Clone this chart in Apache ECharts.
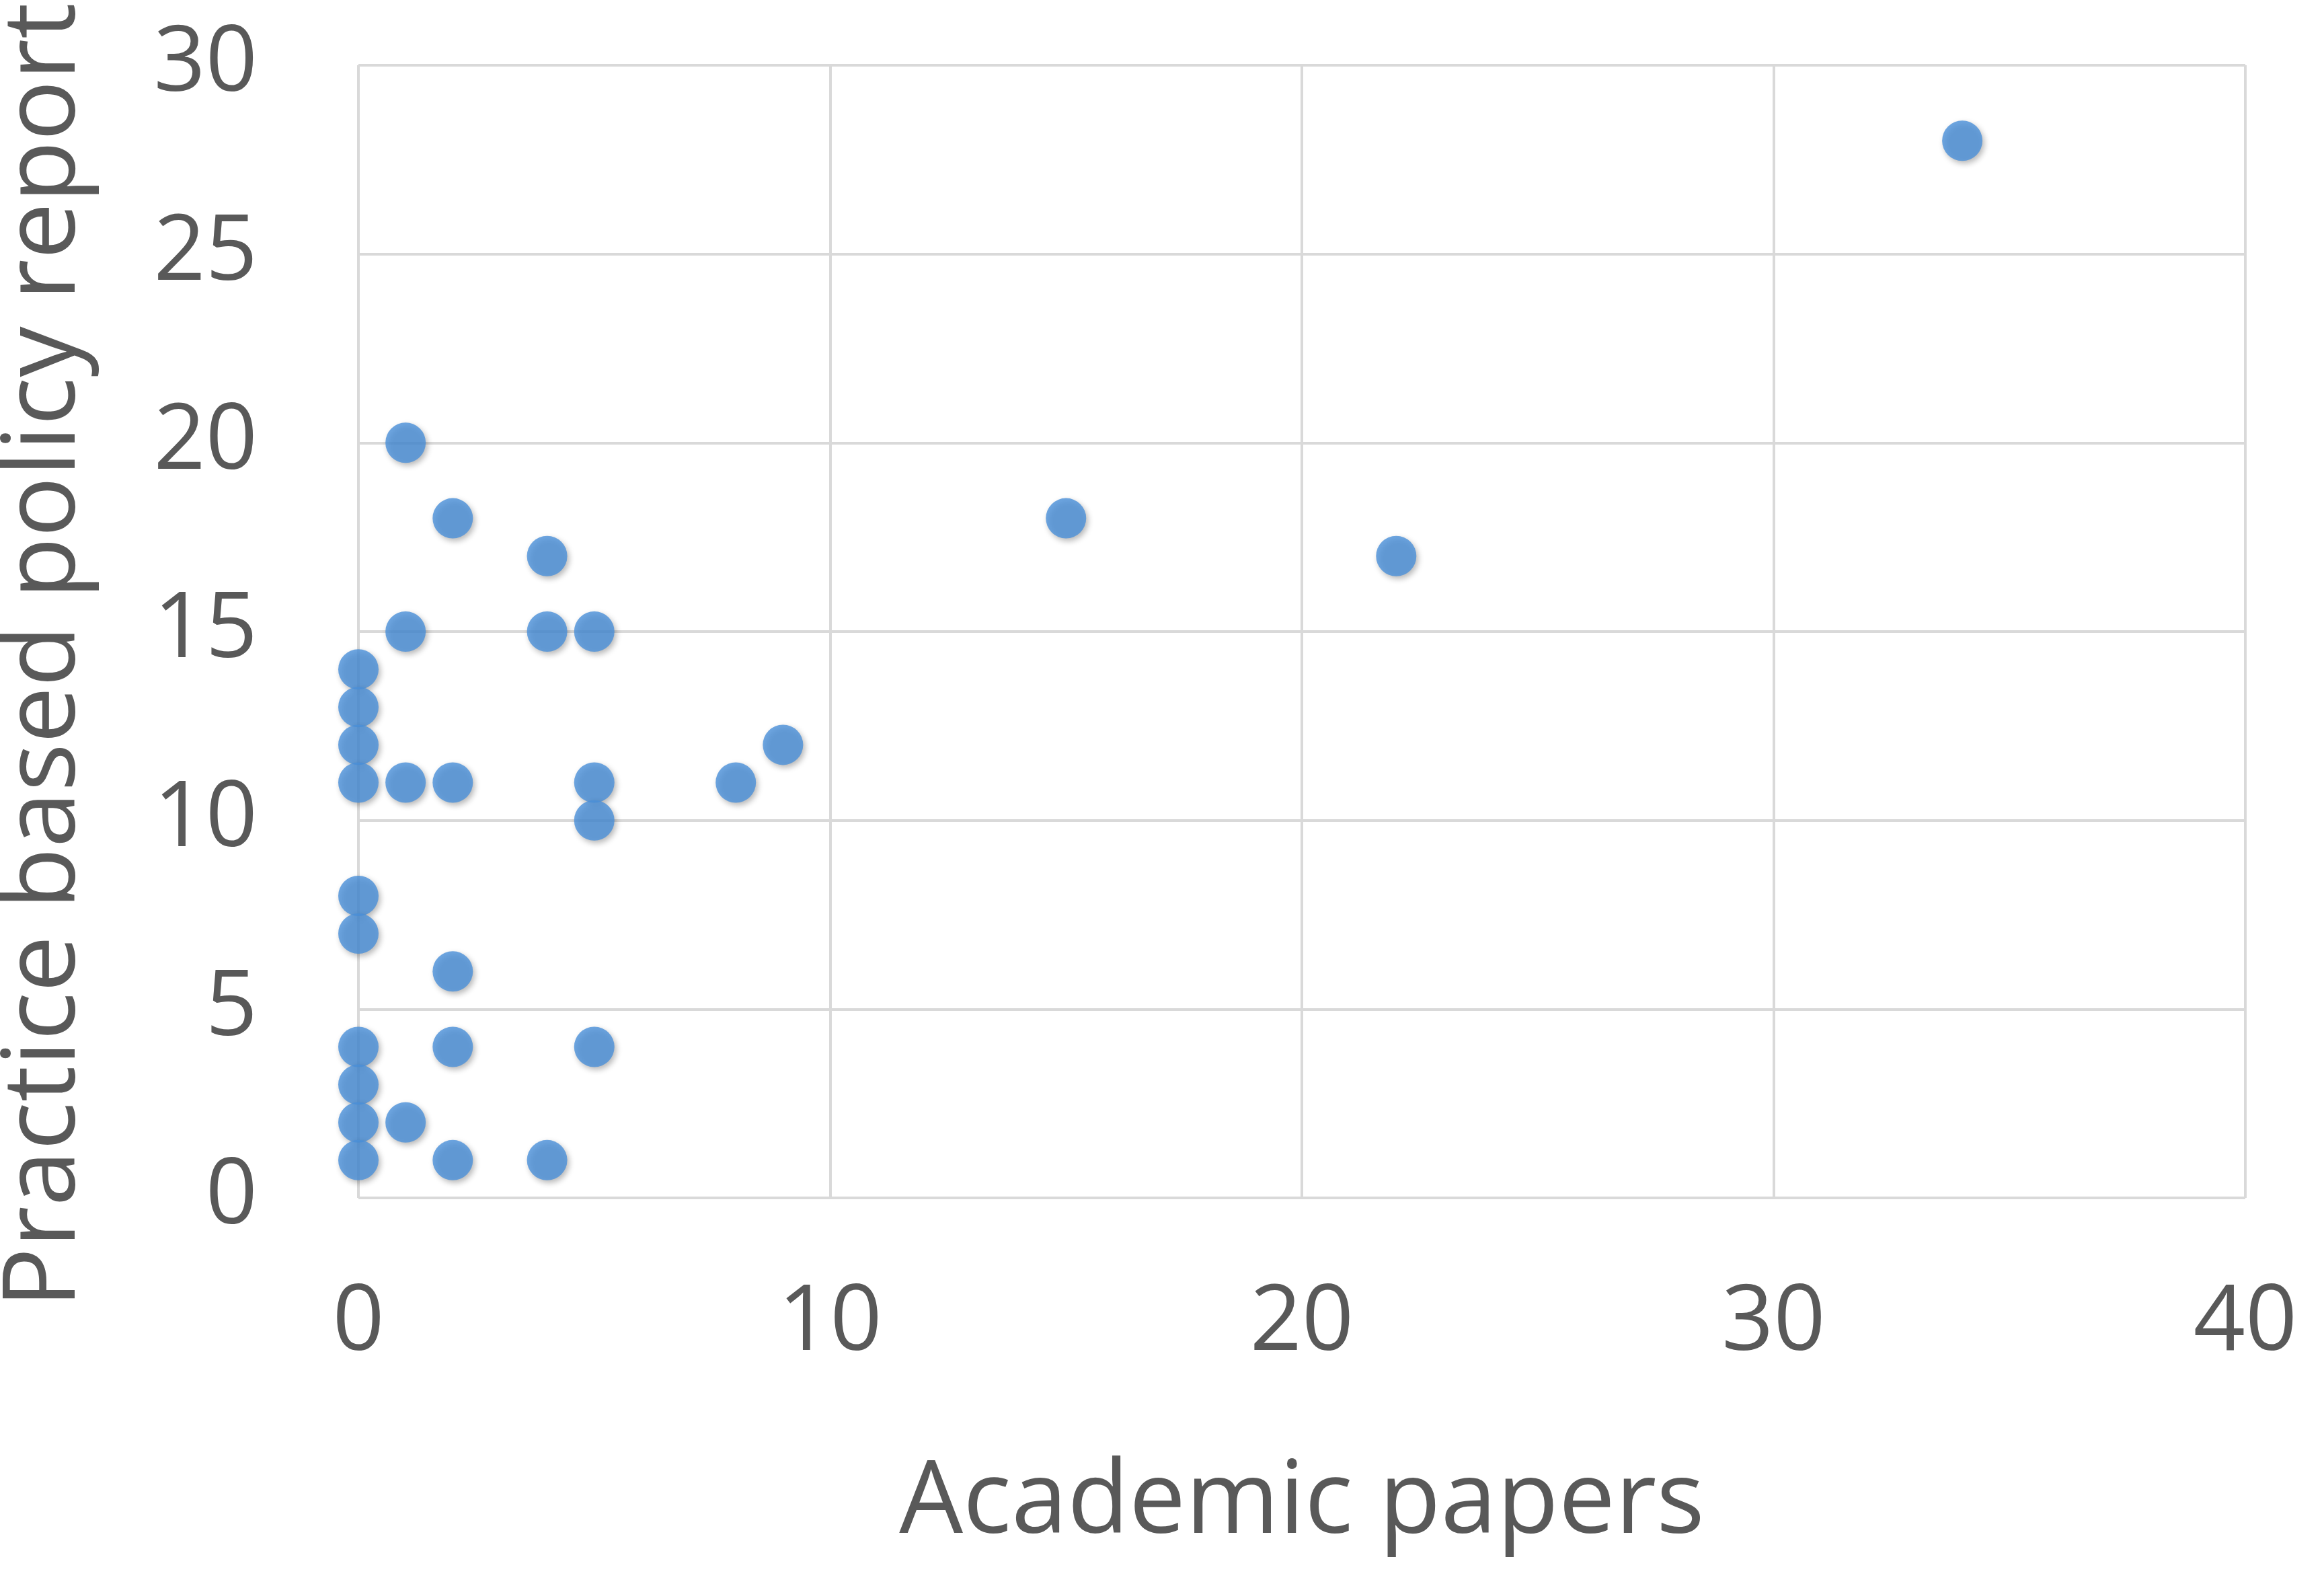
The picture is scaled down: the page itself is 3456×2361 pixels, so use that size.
<!DOCTYPE html>
<html lang="en">
<head>
    <meta charset="UTF-8">
    <title>Scatter</title>
    <script src="https://cdn.jsdelivr.net/npm/echarts@6/dist/echarts.min.js"></script>
    <style>html,body{margin:0;padding:0;background:#fff;}</style>
</head>
<body>
<div id="main" style="width:3456px; height:2361px;"></div>
<script>
    // academic papers (x) vs practice based policy reports (y)
    var academic = [34, 1, 2, 15, 4, 22, 1, 4, 5, 0, 0, 0, 9, 0, 1, 2, 5, 8, 5, 0, 0, 2, 0, 2, 5, 0, 1, 0, 0, 2, 4];
    var reports  = [28, 20, 18, 18, 17, 17, 15, 15, 15, 14, 13, 12, 12, 11, 11, 11, 11, 11, 10, 8, 7, 6, 4, 4, 4, 3, 2, 2, 1, 1, 1];
    var xTicks = [0, 10, 20, 30, 40];
    var yTicks = [0, 5, 10, 15, 20, 25, 30];

    var points = [];
    for (var i = 0; i < academic.length; i++) {
        points.push([academic[i], reports[i]]);
    }

    var myChart = echarts.init(document.getElementById('main'));
    var textColor = '#595959';
    var option = {
        animation: false,
        backgroundColor: '#fff',
        grid: { left: 533, right: 117, top: 97, bottom: 580, containLabel: false, outerBoundsMode: 'none' },
        xAxis: {
            type: 'value',
            min: xTicks[0], max: xTicks[xTicks.length - 1], interval: 10,
            name: 'Academic papers',
            nameLocation: 'middle',
            nameGap: 380,
            nameTextStyle: { fontSize: 150, color: textColor, fontFamily: 'Open Sans' },
            axisLine: { show: false },
            axisTick: { show: false },
            axisLabel: { fontSize: 135, color: textColor, margin: 120, fontFamily: 'Open Sans' },
            splitLine: { lineStyle: { color: '#d9d9d9', width: 4 } }
        },
        yAxis: {
            type: 'value',
            min: yTicks[0], max: yTicks[yTicks.length - 1], interval: 5,
            name: 'Practice based policy reports',
            nameLocation: 'middle',
            nameGap: 390,
            nameTextStyle: { fontSize: 150, color: textColor, fontFamily: 'Open Sans' },
            axisLine: { show: false },
            axisTick: { show: false },
            axisLabel: { fontSize: 135, color: textColor, margin: 150, fontFamily: 'Open Sans' },
            splitLine: { lineStyle: { color: '#d9d9d9', width: 4 } }
        },
        series: [{
            type: 'scatter',
            data: points,
            symbolSize: 60,
            itemStyle: {
                color: '#4a90d9',
                shadowColor: 'rgba(0,0,0,0.35)',
                shadowBlur: 8,
                shadowOffsetX: 3,
                shadowOffsetY: 4
            }
        }]
    };
    myChart.setOption(option);
</script>
</body>
</html>
